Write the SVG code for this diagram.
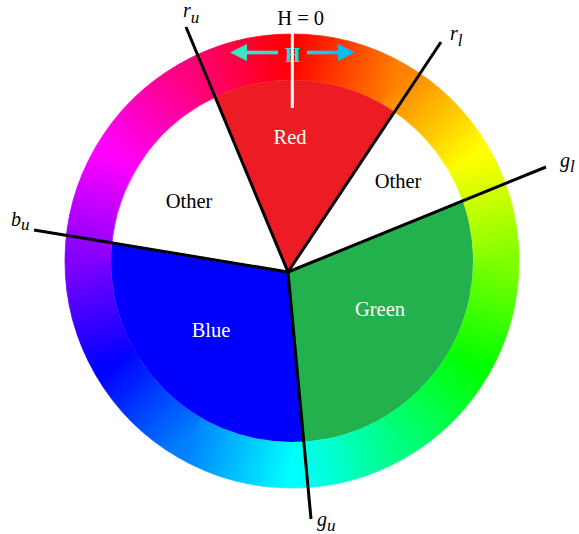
<svg xmlns="http://www.w3.org/2000/svg" width="579" height="534" viewBox="0 0 579 534">
<style>
.lbl{font-family:"Liberation Serif","Times New Roman",serif;font-size:20.5px;text-anchor:middle}
.w{fill:#ffffff}
.k{fill:#000000}
.it{font-family:"Liberation Serif","Times New Roman",serif;font-style:italic;fill:#000000}
.line{stroke:#000000;stroke-width:3;stroke-linecap:butt;fill:none}
.seg{stroke-width:0.8}
</style>
<defs>
<linearGradient id="g0" gradientUnits="userSpaceOnUse" x1="292" y1="57" x2="394" y2="84.33"><stop offset="0" stop-color="#ff0000"/><stop offset="1" stop-color="#ff8000"/></linearGradient>
<linearGradient id="g1" gradientUnits="userSpaceOnUse" x1="394" y1="84.33" x2="468.67" y2="159"><stop offset="0" stop-color="#ff8000"/><stop offset="1" stop-color="#ffff00"/></linearGradient>
<linearGradient id="g2" gradientUnits="userSpaceOnUse" x1="468.67" y1="159" x2="496" y2="261"><stop offset="0" stop-color="#ffff00"/><stop offset="1" stop-color="#80ff00"/></linearGradient>
<linearGradient id="g3" gradientUnits="userSpaceOnUse" x1="496" y1="261" x2="468.67" y2="363"><stop offset="0" stop-color="#80ff00"/><stop offset="1" stop-color="#00ff00"/></linearGradient>
<linearGradient id="g4" gradientUnits="userSpaceOnUse" x1="468.67" y1="363" x2="394" y2="437.67"><stop offset="0" stop-color="#00ff00"/><stop offset="1" stop-color="#00ff80"/></linearGradient>
<linearGradient id="g5" gradientUnits="userSpaceOnUse" x1="394" y1="437.67" x2="292" y2="465"><stop offset="0" stop-color="#00ff80"/><stop offset="1" stop-color="#00ffff"/></linearGradient>
<linearGradient id="g6" gradientUnits="userSpaceOnUse" x1="292" y1="465" x2="190" y2="437.67"><stop offset="0" stop-color="#00ffff"/><stop offset="1" stop-color="#0080ff"/></linearGradient>
<linearGradient id="g7" gradientUnits="userSpaceOnUse" x1="190" y1="437.67" x2="115.33" y2="363"><stop offset="0" stop-color="#0080ff"/><stop offset="1" stop-color="#0000ff"/></linearGradient>
<linearGradient id="g8" gradientUnits="userSpaceOnUse" x1="115.33" y1="363" x2="88" y2="261"><stop offset="0" stop-color="#0000ff"/><stop offset="1" stop-color="#8000ff"/></linearGradient>
<linearGradient id="g9" gradientUnits="userSpaceOnUse" x1="88" y1="261" x2="115.33" y2="159"><stop offset="0" stop-color="#8000ff"/><stop offset="1" stop-color="#ff00ff"/></linearGradient>
<linearGradient id="g10" gradientUnits="userSpaceOnUse" x1="115.33" y1="159" x2="190" y2="84.33"><stop offset="0" stop-color="#ff00ff"/><stop offset="1" stop-color="#ff0080"/></linearGradient>
<linearGradient id="g11" gradientUnits="userSpaceOnUse" x1="190" y1="84.33" x2="292" y2="57"><stop offset="0" stop-color="#ff0080"/><stop offset="1" stop-color="#ff0000"/></linearGradient>
<linearGradient id="arrowGrad" gradientUnits="userSpaceOnUse" x1="230" y1="0" x2="355" y2="0"><stop offset="0" stop-color="#3ee8bc"/><stop offset="0.5" stop-color="#22dede"/><stop offset="1" stop-color="#00b4f4"/></linearGradient>
<clipPath id="inner"><circle cx="292" cy="261" r="181"/></clipPath>
</defs>
<rect width="579" height="534" fill="#ffffff"/>
<g id="hue-ring">
<path class="seg" fill="url(#g0)" stroke="url(#g0)" d="M292,34 A227,227 0 0 1 405.5,64.42 L382.5,104.25 A181,181 0 0 0 292,80 Z"/>
<path class="seg" fill="url(#g1)" stroke="url(#g1)" d="M405.5,64.42 A227,227 0 0 1 488.58,147.5 L448.75,170.5 A181,181 0 0 0 382.5,104.25 Z"/>
<path class="seg" fill="url(#g2)" stroke="url(#g2)" d="M488.58,147.5 A227,227 0 0 1 519,261 L473,261 A181,181 0 0 0 448.75,170.5 Z"/>
<path class="seg" fill="url(#g3)" stroke="url(#g3)" d="M519,261 A227,227 0 0 1 488.58,374.5 L448.75,351.5 A181,181 0 0 0 473,261 Z"/>
<path class="seg" fill="url(#g4)" stroke="url(#g4)" d="M488.58,374.5 A227,227 0 0 1 405.5,457.58 L382.5,417.75 A181,181 0 0 0 448.75,351.5 Z"/>
<path class="seg" fill="url(#g5)" stroke="url(#g5)" d="M405.5,457.58 A227,227 0 0 1 292,488 L292,442 A181,181 0 0 0 382.5,417.75 Z"/>
<path class="seg" fill="url(#g6)" stroke="url(#g6)" d="M292,488 A227,227 0 0 1 178.5,457.58 L201.5,417.75 A181,181 0 0 0 292,442 Z"/>
<path class="seg" fill="url(#g7)" stroke="url(#g7)" d="M178.5,457.58 A227,227 0 0 1 95.42,374.5 L135.25,351.5 A181,181 0 0 0 201.5,417.75 Z"/>
<path class="seg" fill="url(#g8)" stroke="url(#g8)" d="M95.42,374.5 A227,227 0 0 1 65,261 L111,261 A181,181 0 0 0 135.25,351.5 Z"/>
<path class="seg" fill="url(#g9)" stroke="url(#g9)" d="M65,261 A227,227 0 0 1 95.42,147.5 L135.25,170.5 A181,181 0 0 0 111,261 Z"/>
<path class="seg" fill="url(#g10)" stroke="url(#g10)" d="M95.42,147.5 A227,227 0 0 1 178.5,64.42 L201.5,104.25 A181,181 0 0 0 135.25,170.5 Z"/>
<path class="seg" fill="url(#g11)" stroke="url(#g11)" d="M178.5,64.42 A227,227 0 0 1 292,34 L292,80 A181,181 0 0 0 201.5,104.25 Z"/>
</g>
<g id="red-sector">
<polygon clip-path="url(#inner)" fill="#ed1c24" points="288,272 133.6,-97 509.4,-61.2"/>
<text class="lbl w" x="290" y="144">Red</text>
</g>
<g id="green-sector">
<polygon clip-path="url(#inner)" fill="#22b14c" points="288,272 658.4,120.9 634.4,472 325,670.3"/>
<text class="lbl w" x="380" y="316">Green</text>
</g>
<g id="blue-sector">
<polygon clip-path="url(#inner)" fill="#0000ff" points="288,272 325,670.3 -4.6,544.8 -106.6,206.7"/>
<text class="lbl w" x="211" y="337">Blue</text>
</g>
<g id="other-left">
<text class="lbl k" x="189" y="208">Other</text>
</g>
<g id="other-right">
<text class="lbl k" x="398" y="188">Other</text>
</g>
<g id="hue-origin">
<text class="lbl k" x="300.7" y="25">H = 0</text>
<g fill="url(#arrowGrad)">
<rect x="246" y="50.7" width="32" height="3.6"/>
<polygon points="230,52.5 247,44 247,61"/>
<rect x="307" y="50.7" width="32" height="3.6"/>
<polygon points="355,52.5 338,44 338,61"/>
</g>
<text x="292.7" y="61.5" font-family="Liberation Serif, Times New Roman, serif" font-size="20" font-weight="bold" fill="#19dfe0" text-anchor="middle">H</text>
<line x1="292.3" y1="33" x2="292.3" y2="108" stroke="#ffffff" stroke-width="3"/>
</g>
<g id="connectors">
<line class="line" x1="288" y1="272" x2="186" y2="27"/>
<line class="line" x1="288" y1="272" x2="441" y2="42"/>
<line class="line" x1="288" y1="272" x2="546" y2="167"/>
<line class="line" x1="288" y1="272" x2="311" y2="519"/>
<line class="line" x1="288" y1="272" x2="34" y2="230"/>
</g>
<g id="boundary-labels">
<text class="it" x="183" y="17" font-size="20">r<tspan font-size="17" dy="6">u</tspan></text>
<text class="it" x="450" y="40" font-size="20">r<tspan font-size="17" dy="6">l</tspan></text>
<text class="it" x="560" y="167" font-size="20">g<tspan font-size="17" dy="5">l</tspan></text>
<text class="it" x="317" y="526" font-size="20">g<tspan font-size="17" dy="5">u</tspan></text>
<text class="it" x="11" y="226" font-size="20">b<tspan font-size="17" dy="4">u</tspan></text>
</g>
</svg>
